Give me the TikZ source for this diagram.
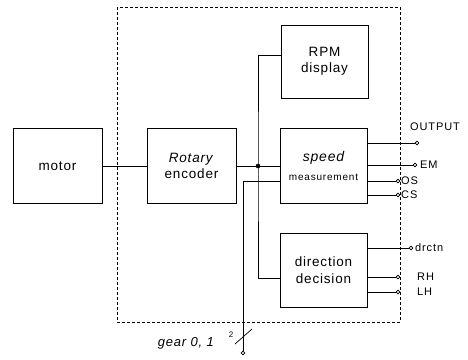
\documentclass[tikz,border=0pt]{standalone}
\usepackage{fontspec}
\setmainfont{Liberation Sans}
\begin{document}
\begin{tikzpicture}[x=1pt,y=-1pt,
  blockbox/.style={draw, line width=0.8pt, inner sep=0pt, align=center,
    minimum width=87pt, minimum height=74pt,
    font=\fontsize{13.5}{16.5}\selectfont\addfontfeatures{LetterSpace=6}},
  wire/.style={line width=0.7pt},
  term/.style={circle, draw, fill=white, inner sep=0pt, minimum size=3.6pt, line width=0.7pt},
  lbl/.style={inner sep=0pt, anchor=west, font=\fontsize{11}{12}\selectfont\addfontfeatures{LetterSpace=8}},
  boundary/.style={line width=0.6pt, dash pattern=on 3pt off 2pt}]
\useasboundingbox (0,0) rectangle (468,359);

% system boundary
\draw[boundary] (117,7) rectangle (400,322);

% blocks
\node[blockbox, minimum width=89pt, minimum height=75pt] (motor) at (57.5,166) {motor};
\node[blockbox, minimum width=89pt, minimum height=75pt] (enc) at (191.5,166) {\textit{Rotary}\\encoder};
\node[blockbox, minimum height=73pt] (rpm) at (324.5,61.5) {RPM\\display};
\node[blockbox, minimum height=75pt] (speed) at (323.5,166)
  {{\fontsize{14}{16}\selectfont\itshape speed}\\[2pt]{\fontsize{10}{12}\selectfont\addfontfeatures{LetterSpace=8}measurement}};
\node[blockbox] (dir) at (323.5,270) {direction\\decision};

% main signal path
\coordinate (j) at (258,166);
\draw[wire] (motor) -- (enc);
\draw[wire] (enc) -- (speed);
\draw[wire] ([yshift=6.5pt]rpm.west) -| (j) |- ([yshift=-8pt]dir.west);
\fill (j) circle (2.3pt);

% gear select input (2 lines)
\node[term] (gear) at (243,353) {};
\draw[wire] (gear) |- ([yshift=-15pt]speed.west);
\coordinate (s1) at (235,344);
\coordinate (s2) at (252,329);
\draw[wire] (s1) -- (s2);
\node[inner sep=0pt, font=\fontsize{8}{9}\selectfont] (two) at (231,335) {2};
\node[inner sep=0pt, anchor=east, font=\fontsize{13}{15}\selectfont\itshape\addfontfeatures{LetterSpace=6}] (gearlbl) at (214,343) {gear 0, 1};

% outputs of the speed measurement
\node[term] (tout) at (417,143) {};
\node[term] (tem) at (415,165) {};
\node[term] (tos) at (398,181) {};
\node[term] (tcs) at (398,195) {};
\draw[wire] (tout) -- (tout -| speed.east);
\draw[wire] (tem) -- (tem -| speed.east);
\draw[wire] (tos) -- (tos -| speed.east);
\draw[wire] (tcs) -- (tcs -| speed.east);
\node[lbl] (lout) at (410,127) {OUTPUT};
\node[lbl] (lem) at (420,165) {EM};
\node[lbl] (los) at (401,181) {OS};
\node[lbl] (lcs) at (401,195) {CS};

% outputs of the direction decision
\node[term] (tdr) at (411,248) {};
\node[term] (trh) at (398,277) {};
\node[term] (tlh) at (398,292) {};
\draw[wire] (tdr) -- (tdr -| dir.east);
\draw[wire] (trh) -- (trh -| dir.east);
\draw[wire] (tlh) -- (tlh -| dir.east);
\node[lbl] (ldr) at (415,248) {drctn};
\node[lbl] (lrh) at (417,277) {RH};
\node[lbl] (llh) at (417,292) {LH};
\end{tikzpicture}
\end{document}
